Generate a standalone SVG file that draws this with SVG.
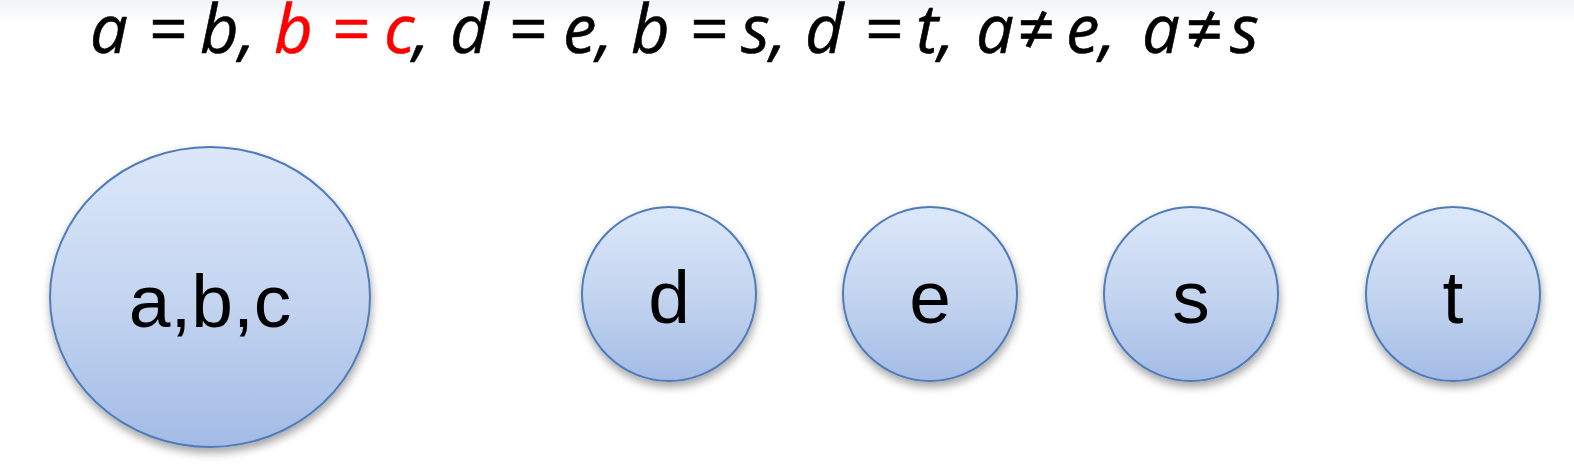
<svg xmlns="http://www.w3.org/2000/svg" width="1574" height="474" viewBox="0 0 1574 474">
<defs>
<linearGradient id="fill" x1="0" y1="0" x2="0" y2="1">
<stop offset="0" stop-color="#dce8fa"/>
<stop offset="0.5" stop-color="#c4d5f0"/>
<stop offset="1" stop-color="#a3bbe5"/>
</linearGradient>
<linearGradient id="band" x1="0" y1="0" x2="0" y2="1">
<stop offset="0" stop-color="#f1f3f7"/>
<stop offset="1" stop-color="#ffffff"/>
</linearGradient>
<filter id="sh" x="-20%" y="-20%" width="140%" height="150%">
<feDropShadow dx="1" dy="5" stdDeviation="4" flood-color="#000" flood-opacity="0.35"/>
</filter>
<style>
.node{fill:url(#fill);stroke:#4f7cb9;stroke-width:2;filter:url(#sh)}
.lbl{font-family:"Liberation Sans",Arial,sans-serif;font-size:75px;fill:#000;text-anchor:middle}
.eq{font-family:"Open Sans","Liberation Sans",sans-serif;font-style:italic;font-size:67px;fill:#000;stroke:#000;stroke-width:0.6}
.red{fill:#ff0000;stroke:#ff0000}
</style>
</defs>
<rect x="0" y="0" width="1574" height="474" fill="#ffffff"/>
<rect x="0" y="0" width="1574" height="22" fill="url(#band)"/>
<text class="eq" y="53"><tspan x="90">a</tspan><tspan x="148">=</tspan><tspan x="200">b,</tspan><tspan class="red" x="274">b</tspan><tspan class="red" x="331">=</tspan><tspan class="red" x="384">c</tspan><tspan x="413">,</tspan><tspan x="450">d</tspan><tspan x="508">=</tspan><tspan x="563">e,</tspan><tspan x="631">b</tspan><tspan x="689">=</tspan><tspan x="741">s,</tspan><tspan x="805">d</tspan><tspan x="864">=</tspan><tspan x="916">t,</tspan><tspan x="976">a</tspan><tspan x="1017">≠</tspan><tspan x="1066">e,</tspan><tspan x="1142">a</tspan><tspan x="1185">≠</tspan><tspan x="1230">s</tspan></text>
<g id="connectors"></g>
<g id="node-abc">
<ellipse class="node" cx="210" cy="297" rx="160" ry="150"/>
<text class="lbl" x="210" y="327">a,b,c</text>
</g>
<g id="node-d">
<circle class="node" cx="669" cy="294" r="87"/>
<text class="lbl" x="669" y="323">d</text>
</g>
<g id="node-e">
<circle class="node" cx="930" cy="294" r="87"/>
<text class="lbl" x="930" y="323">e</text>
</g>
<g id="node-s">
<circle class="node" cx="1191" cy="294" r="87"/>
<text class="lbl" x="1191" y="323">s</text>
</g>
<g id="node-t">
<circle class="node" cx="1453" cy="294" r="87"/>
<text class="lbl" x="1453" y="323">t</text>
</g>
</svg>
